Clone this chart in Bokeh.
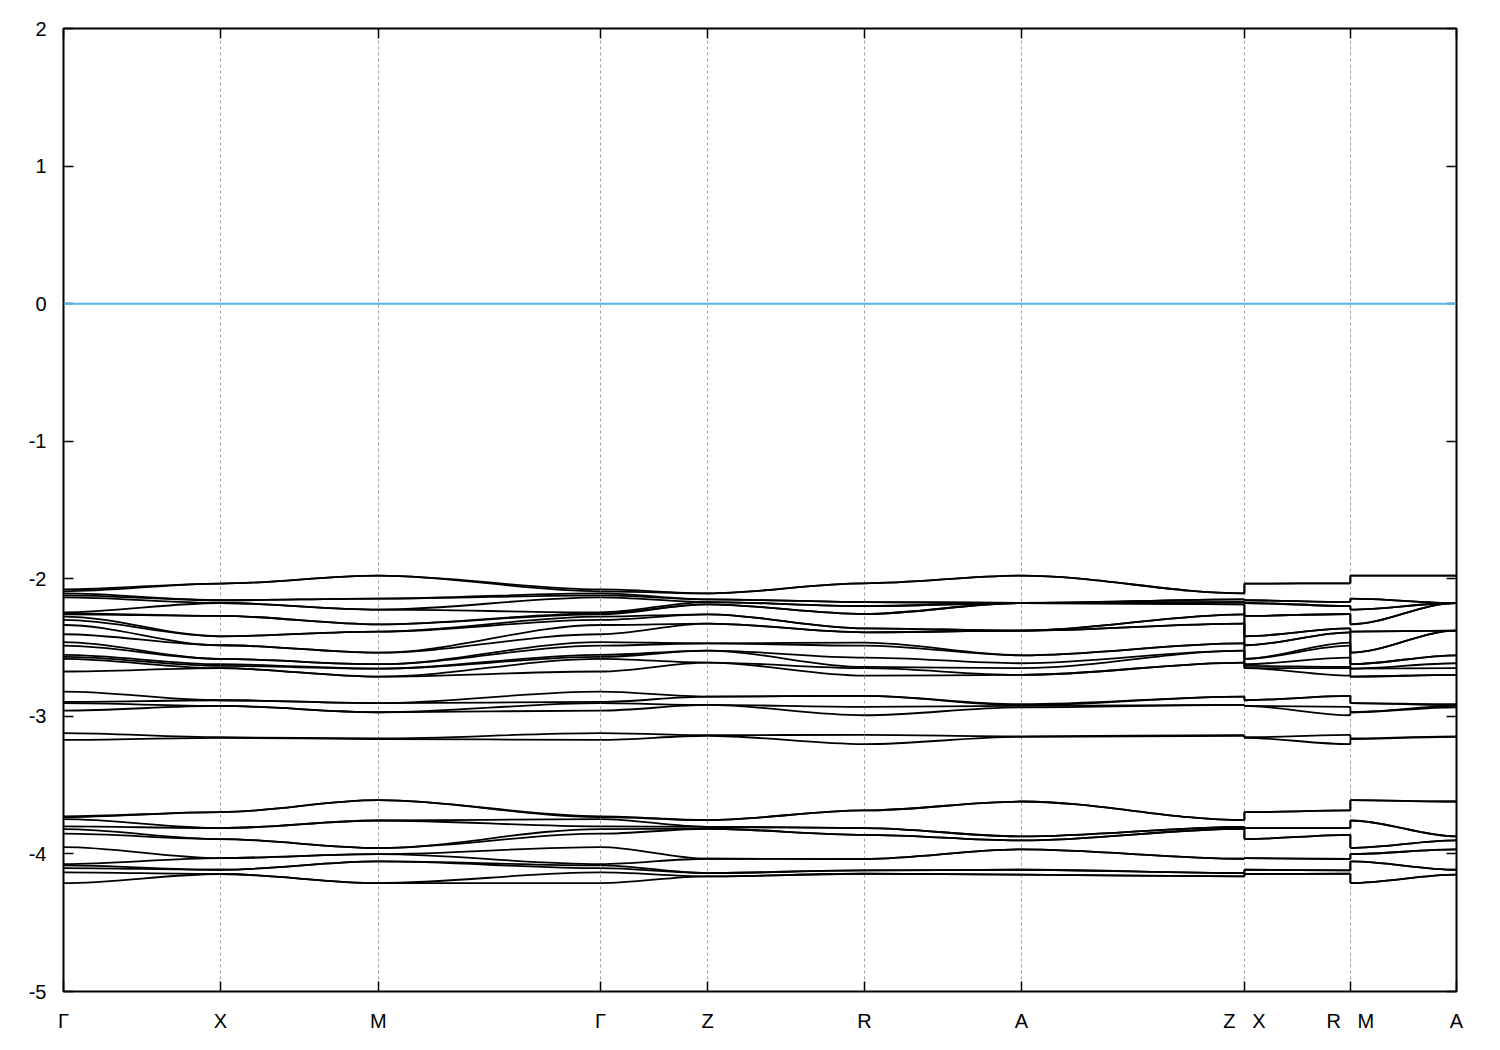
from bokeh.plotting import figure
from bokeh.models import Range1d, FixedTicker, LinearAxis, Span
from bokeh.embed import file_html
from bokeh.resources import INLINE

# ---- k-path (high-symmetry points and their distances along the path) ----
path_labels = ["Γ", "X", "M", "Γ", "Z", "R", "A", "Z", "X", "R", "M", "A"]
path_pos = [0.0, 1.000, 2.006, 3.420, 4.102, 5.102, 6.102, 7.522, 7.522, 8.197, 8.197, 8.873]
path_keys = ["G", "X", "M", "G", "Z", "R", "A", "Z", "X", "R", "M", "A"]

# ---- band energies (eV) at each high-symmetry point, highest first ----
E_G = [-2.077, -2.091, -2.106, -2.120, -2.135, -2.244, -2.251, -2.258, -2.275, -2.299,
       -2.336, -2.403, -2.461, -2.486, -2.553, -2.568, -2.582, -2.674,
       -2.820, -2.895, -2.904, -2.958,
       -3.122, -3.171,
       -3.727, -3.732, -3.747, -3.800, -3.819, -3.853, -3.950, -4.074, -4.083, -4.103, -4.134, -4.212]
E_X = [-2.035, -2.035, -2.156, -2.156, -2.176, -2.176, -2.270, -2.270, -2.418, -2.418,
       -2.483, -2.483, -2.582, -2.582, -2.621, -2.633, -2.650, -2.650,
       -2.883, -2.883, -2.924, -2.924,
       -3.152, -3.156,
       -3.696, -3.696, -3.812, -3.812, -3.892, -3.892, -4.030, -4.030, -4.115, -4.115, -4.146, -4.146]
E_M = [-1.977, -1.977, -2.144, -2.144, -2.224, -2.224, -2.331, -2.331, -2.384, -2.384,
       -2.537, -2.537, -2.621, -2.621, -2.653, -2.653, -2.711, -2.711,
       -2.904, -2.904, -2.970, -2.970,
       -3.161, -3.165,
       -3.609, -3.609, -3.757, -3.757, -3.957, -3.957, -4.001, -4.001, -4.054, -4.054, -4.212, -4.212]
E_Z = [-2.106, -2.106, -2.149, -2.149, -2.169, -2.169, -2.186, -2.186, -2.258, -2.258,
       -2.326, -2.326, -2.469, -2.469, -2.522, -2.522, -2.609, -2.609,
       -2.856, -2.856, -2.917, -2.917,
       -3.137, -3.141,
       -3.754, -3.754, -3.803, -3.803, -3.817, -3.817, -4.035, -4.035, -4.139, -4.139, -4.163, -4.163]
E_R = [-2.033, -2.033, -2.169, -2.169, -2.198, -2.198, -2.256, -2.256, -2.360, -2.360,
       -2.389, -2.389, -2.464, -2.486, -2.573, -2.641, -2.650, -2.704,
       -2.851, -2.851, -2.931, -2.992,
       -3.134, -3.202,
       -3.684, -3.684, -3.812, -3.812, -3.861, -3.861, -4.037, -4.037, -4.120, -4.120, -4.144, -4.144]
E_A = [-1.977, -1.977, -2.176, -2.176, -2.176, -2.176, -2.176, -2.176, -2.377, -2.377,
       -2.377, -2.377, -2.556, -2.556, -2.614, -2.650, -2.699, -2.699,
       -2.912, -2.919, -2.924, -2.934,
       -3.145, -3.149,
       -3.619, -3.619, -3.873, -3.873, -3.902, -3.902, -3.967, -3.967, -4.115, -4.115, -4.151, -4.151]

energies = {"G": E_G, "X": E_X, "M": E_M, "Z": E_Z, "R": E_R, "A": E_A}
fermi_level = 0.0
y_ticks = [-5, -4, -3, -2, -1, 0, 1, 2]
y_tick_labels = ["-5", "-4", "-3", "-2", "-1", "0", "1", "2"]

p = figure(width=1484, height=1034, output_backend="svg", toolbar_location=None,
           x_range=Range1d(path_pos[0], path_pos[-1]), y_range=Range1d(-5, 2),
           min_border_left=63, min_border_right=28, min_border_top=28, min_border_bottom=42,
           background_fill_color="white", border_fill_color="white")
p.outline_line_color = "black"
p.outline_line_width = 2

tick_positions = sorted(set(path_pos))

# combined labels where the path jumps (same position appears twice)
x_labels = {}
for pos, lab in zip(path_pos, path_labels):
    if pos in x_labels:
        x_labels[pos] = x_labels[pos] + "\u00a0\u00a0\u00a0" + lab
    else:
        x_labels[pos] = lab

# grid: vertical dashed lines at high-symmetry points
p.xgrid.ticker = FixedTicker(ticks=tick_positions)
p.xgrid.grid_line_color = "#a0a0a0"
p.xgrid.grid_line_dash = "3 3"
p.xgrid.grid_line_width = 1
p.ygrid.visible = False

def style_axis(ax, show_labels):
    ax.axis_line_color = None
    ax.major_tick_in = 10
    ax.major_tick_out = 0
    ax.major_tick_line_width = 1.5
    ax.major_tick_line_color = "black"
    ax.minor_tick_line_color = None
    if not show_labels:
        ax.major_label_text_font_size = "0px"
        ax.major_label_standoff = 0

# left y axis
p.yaxis.ticker = FixedTicker(ticks=y_ticks)
p.yaxis.major_label_overrides = dict(zip(y_ticks, y_tick_labels))
style_axis(p.yaxis[0], True)
p.yaxis.major_label_text_font = "Liberation Sans"
p.yaxis.major_label_text_font_size = "20px"
p.yaxis.major_label_text_color = "black"
p.yaxis.major_label_standoff = 17

# bottom x axis
p.xaxis.ticker = FixedTicker(ticks=tick_positions)
p.xaxis.major_label_overrides = x_labels
style_axis(p.xaxis[0], True)
p.xaxis.major_label_text_font = "Liberation Sans"
p.xaxis.major_label_text_font_size = "20px"
p.xaxis.major_label_text_color = "black"
p.xaxis.major_label_standoff = 18

# mirrored axes
ry = LinearAxis(ticker=FixedTicker(ticks=y_ticks), major_label_overrides={t: "" for t in y_ticks})
style_axis(ry, False)
p.add_layout(ry, "right")
tx = LinearAxis(ticker=FixedTicker(ticks=tick_positions), major_label_overrides={t: "" for t in tick_positions})
style_axis(tx, False)
p.add_layout(tx, "above")

# Fermi level
p.add_layout(Span(location=fermi_level, dimension="width", line_color="#56b4e9", line_width=2))

# bands
nb = len(E_G)
bx0, by0, bx1, by1, bcx0, bcy0, bcx1, bcy1 = [], [], [], [], [], [], [], []
vx, vy = [], []
for s in range(len(path_pos) - 1):
    xa, xb = path_pos[s], path_pos[s + 1]
    ea, eb = energies[path_keys[s]], energies[path_keys[s + 1]]
    for i in range(nb):
        if xb == xa:
            vx.append([xa, xb]); vy.append([ea[i], eb[i]])
        else:
            d = (xb - xa) / 3.0
            bx0.append(xa); by0.append(ea[i]); bx1.append(xb); by1.append(eb[i])
            bcx0.append(xa + d); bcy0.append(ea[i]); bcx1.append(xb - d); bcy1.append(eb[i])
p.bezier(x0=bx0, y0=by0, x1=bx1, y1=by1, cx0=bcx0, cy0=bcy0, cx1=bcx1, cy1=bcy1,
         line_color="black", line_width=1.8)
p.multi_line(xs=vx, ys=vy, line_color="black", line_width=1.8)

open("out.html", "w").write(file_html(p, INLINE))
